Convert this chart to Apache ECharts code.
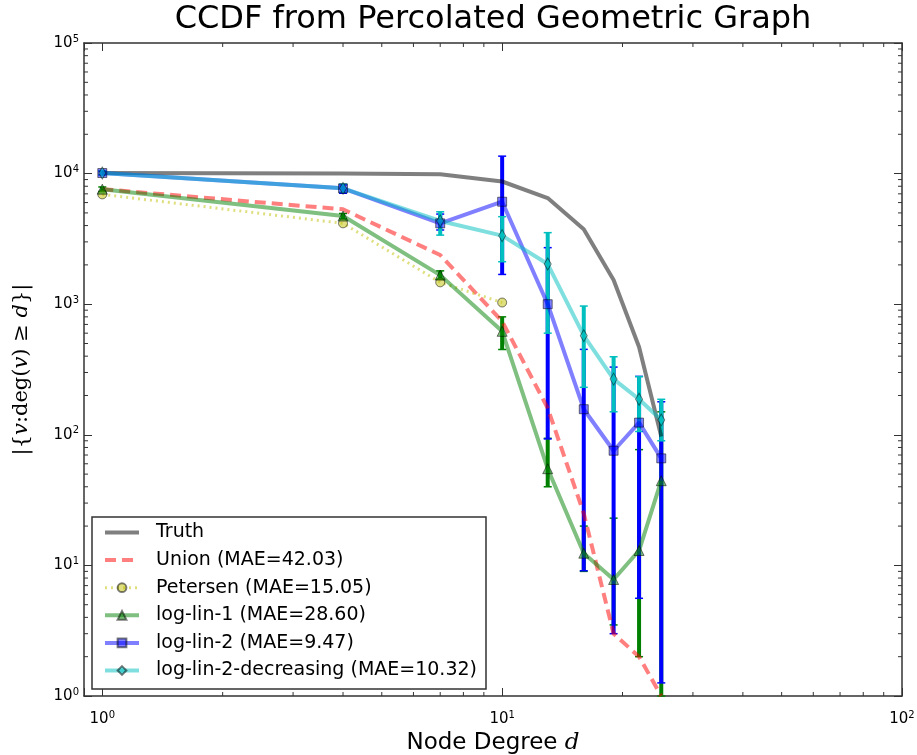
<!DOCTYPE html>
<html>
<head>
<meta charset="utf-8">
<script src="https://cdn.jsdelivr.net/npm/echarts@6/dist/echarts.min.js"></script>
<style>
  html, body { margin: 0; padding: 0; background: #fff; }
  #main { width: 917px; height: 755px; }
</style>
</head>
<body>
<div id="main"></div>
<script>
// node degree d
var degrees = [1, 4, 7, 10, 13, 16, 19, 22, 25];
var petersenDegrees = [1, 4, 7, 10];

// |{v : deg(v) >= d}|
var truth      = [10100, 10000, 9900, 8700, 6500, 3750, 1530, 470, 97];
var union      = [7600, 5330, 2380, 740, 160, 25, 3, 2, 1];
var petersen   = [6930, 4160, 1470, 1030];
var logLin1    = [7600, 4730, 1670, 620, 55, 12.4, 7.8, 13, 44.5];
var logLin2    = [10100, 7710, 4160, 6090, 1000, 157, 75.5, 124, 66];
var logLin2Dec = [10100, 7710, 4340, 3350, 2030, 574, 267, 187, 130];

// error bar ends (low / high)
var logLin1Lo    = [7300, 4500, 1550, 450, 40, 9, 3.5, 2.0, 1];
var logLin1Hi    = [7900, 4950, 1800, 800, 94, 20, 23, 77, 150];
var logLin2Lo    = [9800, 7070, 3700, 1690, 93, 9.1, 3.0, 5.6, 1.26];
var logLin2Hi    = [10400, 8200, 4900, 13600, 2710, 451, 330, 280, 179];
var logLin2DecLo = [9800, 7200, 3380, 2115, 600, 231, 150, 106, 90];
var logLin2DecHi = [10500, 8300, 5100, 4680, 3530, 968, 396, 279, 187];

// minor tick positions
var xMinor = [2, 3, 4, 5, 6, 7, 8, 9, 20, 30, 40, 50, 60, 70, 80, 90];
var yMinor = [];
[1, 10, 100, 1000, 10000].forEach(function (p) {
  for (var k = 2; k <= 9; k++) yMinor.push(k * p);
});

var legendNames = [
  'Truth',
  'Union (MAE=42.03)',
  'Petersen (MAE=15.05)',
  'log-lin-1 (MAE=28.60)',
  'log-lin-2 (MAE=9.47)',
  'log-lin-2-decreasing (MAE=10.32)'
];

var X_MIN = 0.9, X_MAX = 100, Y_MIN = 1, Y_MAX = 100000;
var FONT = 'DejaVu Sans';

function pairs(xs, ys) {
  return xs.map(function (x, i) { return [x, ys[i]]; });
}
function triples(xs, lo, hi) {
  return xs.map(function (x, i) { return [x, lo[i], hi[i]]; });
}

function powLabel(v) {
  var e = Math.log10(v);
  if (Math.abs(e - Math.round(e)) > 1e-6) return '';
  return '10{s|' + Math.round(e) + '}';
}

function errorBars(data, color) {
  return {
    type: 'custom',
    silent: true,
    data: data,
    encode: { x: 0, y: [1, 2] },
    renderItem: function (params, api) {
      var x = api.value(0);
      var top = api.coord([x, api.value(2)]);
      var bot = api.coord([x, api.value(1)]);
      var hw = 4;
      return {
        type: 'group',
        children: [
          { type: 'line', shape: { x1: top[0], y1: top[1], x2: bot[0], y2: bot[1] },
            style: { stroke: color, lineWidth: 4 } },
          { type: 'line', shape: { x1: top[0] - hw, y1: top[1], x2: top[0] + hw, y2: top[1] },
            style: { stroke: color, lineWidth: 1.5 } },
          { type: 'line', shape: { x1: bot[0] - hw, y1: bot[1], x2: bot[0] + hw, y2: bot[1] },
            style: { stroke: color, lineWidth: 1.5 } }
        ]
      };
    }
  };
}

function lineSeries(name, xs, ys, color, opts) {
  opts = opts || {};
  return {
    name: name,
    type: 'line',
    data: pairs(xs, ys),
    color: color,
    symbol: opts.symbol || 'none',
    symbolSize: opts.symbolSize || 9,
    showSymbol: !!opts.symbol,
    lineStyle: { color: color, width: opts.width || 4, opacity: 0.5, type: opts.dash || 'solid', cap: 'butt' },
    itemStyle: { color: color, opacity: 0.5, borderColor: '#000', borderWidth: 1 },
    emphasis: { disabled: true }
  };
}

var chart = echarts.init(document.getElementById('main'));

chart.setOption({
  animation: false,
  backgroundColor: '#fff',
  graphic: [{
    type: 'text',
    x: 493, y: 20,
    style: {
      text: 'CCDF from Percolated Geometric Graph',
      font: '32px "DejaVu Sans"',
      fill: '#000',
      align: 'center',
      verticalAlign: 'middle'
    }
  }],
  legend: {
    orient: 'vertical',
    left: 92, top: 517,
    padding: [6, 9, 9, 11],
    itemWidth: 34, itemHeight: 11, itemGap: 8.6,
    borderColor: '#333', borderWidth: 1.5,
    backgroundColor: '#fff',
    textStyle: { fontFamily: FONT, fontSize: 19, color: '#000', padding: [0, 0, 0, 12] },
    data: legendNames.map(function (n, i) {
      var item = { name: n, lineStyle: { width: i === 2 ? 3 : 4 } };
      if (i < 2) item.itemStyle = { opacity: 0 };
      return item;
    })
  },
  grid: { left: 84, right: 15, top: 43, bottom: 59, outerBoundsMode: 'none', containLabel: false },
  xAxis: [{
    type: 'log', logBase: 10, min: X_MIN, max: X_MAX,
    name: 'Node Degree {i|d}',
    nameLocation: 'middle', nameGap: 34,
    nameTextStyle: { fontFamily: FONT, fontSize: 23, color: '#000',
      rich: { i: { fontFamily: 'DejaVu Serif', fontStyle: 'italic', fontSize: 23 } } },
    axisLine: { lineStyle: { color: '#333', width: 1.5 } },
    axisTick: { inside: true, length: 8, lineStyle: { color: '#333' } },
    axisLabel: { formatter: powLabel, margin: 14, fontFamily: FONT, fontSize: 15, color: '#000',
      rich: { s: { fontSize: 10, verticalAlign: 'top', padding: [0, 0, 8, 0] } } },
    splitLine: { show: false }
  }, {
    type: 'log', logBase: 10, min: X_MIN, max: X_MAX, position: 'top',
    axisLine: { lineStyle: { color: '#333', width: 1.5 } },
    axisTick: { inside: true, length: 8, lineStyle: { color: '#333' } },
    axisLabel: { show: false },
    splitLine: { show: false }
  }],
  yAxis: [{
    type: 'log', logBase: 10, min: Y_MIN, max: Y_MAX,
    name: '|{{i|v}:deg({i|v}) ≥ {i|d}}|',
    nameLocation: 'middle', nameGap: 52, nameRotate: 90,
    nameTextStyle: { fontFamily: 'DejaVu Serif', fontSize: 21, color: '#000',
      rich: { i: { fontFamily: 'DejaVu Serif', fontStyle: 'italic', fontSize: 21 } } },
    axisLine: { show: true, lineStyle: { color: '#333', width: 1.5 } },
    axisTick: { inside: true, length: 8, lineStyle: { color: '#333' } },
    axisLabel: { formatter: powLabel, margin: 5, fontFamily: FONT, fontSize: 15, color: '#000',
      rich: { s: { fontSize: 10, verticalAlign: 'top', padding: [0, 0, 8, 0] } } },
    splitLine: { show: false }
  }, {
    type: 'log', logBase: 10, min: Y_MIN, max: Y_MAX, position: 'right',
    axisLine: { show: true, lineStyle: { color: '#333', width: 1.5 } },
    axisTick: { inside: true, length: 8, lineStyle: { color: '#333' } },
    axisLabel: { show: false },
    splitLine: { show: false }
  }],
  series: [
    // minor ticks along bottom/top
    {
      type: 'custom', silent: true, z: 5,
      data: xMinor.map(function (v) { return [v, Y_MIN]; }),
      renderItem: function (params, api) {
        var v = api.value(0);
        var b = api.coord([v, Y_MIN]), t = api.coord([v, Y_MAX]);
        return { type: 'group', children: [
          { type: 'line', shape: { x1: b[0], y1: b[1], x2: b[0], y2: b[1] - 4 }, style: { stroke: '#333', lineWidth: 1 } },
          { type: 'line', shape: { x1: t[0], y1: t[1], x2: t[0], y2: t[1] + 4 }, style: { stroke: '#333', lineWidth: 1 } }
        ] };
      }
    },
    // minor ticks along left/right
    {
      type: 'custom', silent: true, z: 5,
      data: yMinor.map(function (v) { return [1, v]; }),
      renderItem: function (params, api) {
        var v = api.value(1);
        var l = api.coord([X_MIN, v]), r = api.coord([X_MAX, v]);
        return { type: 'group', children: [
          { type: 'line', shape: { x1: l[0], y1: l[1], x2: l[0] + 4, y2: l[1] }, style: { stroke: '#333', lineWidth: 1 } },
          { type: 'line', shape: { x1: r[0], y1: r[1], x2: r[0] - 4, y2: r[1] }, style: { stroke: '#333', lineWidth: 1 } }
        ] };
      }
    },
    lineSeries(legendNames[0], degrees, truth, '#000000', { width: 4 }),
    lineSeries(legendNames[1], degrees, union, '#ff0000', { width: 4, dash: [11, 6] }),
    lineSeries(legendNames[2], petersenDegrees, petersen, '#bfbf00', { width: 3, dash: [2, 4], symbol: 'circle', symbolSize: 9 }),
    lineSeries(legendNames[3], degrees, logLin1, '#008000', { width: 4, symbol: 'triangle', symbolSize: 10 }),
    errorBars(triples(degrees, logLin1Lo, logLin1Hi), '#008000'),
    lineSeries(legendNames[4], degrees, logLin2, '#0000ff', { width: 4, symbol: 'rect', symbolSize: 9 }),
    errorBars(triples(degrees, logLin2Lo, logLin2Hi), '#0000ff'),
    lineSeries(legendNames[5], degrees, logLin2Dec, '#00bfbf', { width: 4, symbol: 'diamond', symbolSize: [7, 12] }),
    errorBars(triples(degrees, logLin2DecLo, logLin2DecHi), '#00bfbf')
  ]
});
</script>
</body>
</html>
